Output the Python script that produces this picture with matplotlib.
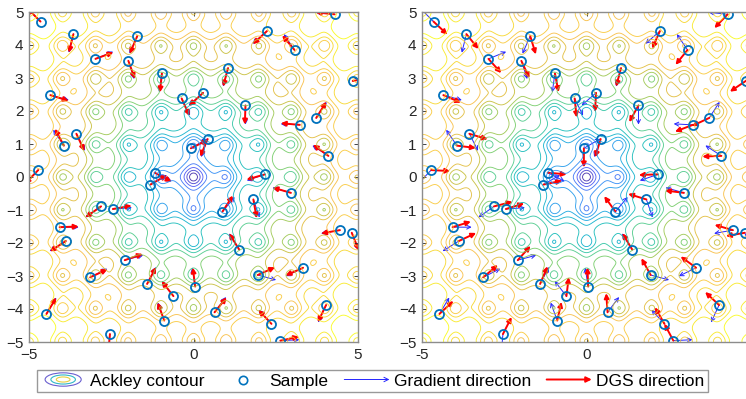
import numpy as np
import matplotlib
matplotlib.use("Agg")
import matplotlib.pyplot as plt
from matplotlib.colors import LinearSegmentedColormap
from matplotlib.patches import FancyArrowPatch, Ellipse
from matplotlib.legend_handler import HandlerBase
from matplotlib.lines import Line2D

# sample points (same in both panels)
sample_x = [-4.65, -3.65, -2.98, -1.71, -1.98, -0.96, -0.36, -4.35, -3.94, -3.56,
            -4.72, -0.08, 0.43, -1.18, -1.31, 4.29, 2.23, 3.07, 1.05, 4.84,
            0.29, 1.58, 3.23, 3.73, 4.10, 2.17, -2.81, -2.45, -4.07, -3.88,
            -2.09, -3.14, -1.41, -0.61, 0.05, -4.47, -0.89, -2.54, 2.96, 0.88,
            1.82, 1.39, 4.45, 4.81, 1.95, 3.33, 0.64, 4.03, 2.37, 2.64]
sample_y = [4.71, 4.33, 3.58, 4.27, 3.52, 3.14, 2.38, 2.48, 0.95, 1.31,
            0.21, 0.87, 1.15, 0.13, -0.23, 4.93, 4.42, 3.85, 3.30, 2.91,
            2.55, 2.17, 1.58, 1.79, 0.64, 0.08, -0.89, -0.97, -1.52, -1.94,
            -2.52, -3.04, -3.24, -3.61, -3.32, -4.15, -4.35, -4.76, -0.48, -1.05,
            -0.68, -2.20, -1.61, -1.69, -2.97, -2.75, -4.10, -3.88, -4.45, -4.96]

# arrow directions in degrees
grad_deg = [135, -104, 22, -114, -72, -98, -64, -15, 124, -63,
            -134, 30, -110, -27, 30, 174, -139, 124, -105, 10,
            -139, -90, 177, 57, 147, -161, -145, 4, 0, -148,
            15, 27, 62, 128, 99, 59, 110, -95, 164, 50,
            -71, 122, -170, -68, -15, -154, 53, -115, 133, 3]
dgs_left_deg = [135, -104, 20, -113, -70, -96, -66, -17, 118, -65,
                -134, 26, -113, -28, 30, 174, -137, 130, -105, 10,
                -137, -92, 175, 58, 144, -164, -145, 10, 2, -147,
                19, 25, 62, 128, 97, 59, 110, -95, 164, 57,
                -80, 122, -170, -68, 24, -156, 51, -116, 133, 12]
dgs_right_deg = [-43, -51, -48, -73, -65, -79, -84, -23, -7, -17,
                 -3, -90, -107, -5, 12, -134, -114, -129, -105, -146,
                 -93, -119, -159, -155, -178, -178, 14, 17, 17, 25,
                 48, 40, 67, 83, 92, 43, 77, 63, 173, 126,
                 163, 121, 164, -170, 119, 144, 94, 137, 120, 118]

x_ticks = [-5, 0, 5]
y_ticks = [-5, -4, -3, -2, -1, 0, 1, 2, 3, 4, 5]
legend_labels = ["Ackley contour", "Sample", "Gradient direction", "DGS direction"]

ARROW_LEN = 0.58
SAMPLE_COLOR = (0.0, 0.447, 0.741)
BLUE = (0.15, 0.15, 1.0)

parula = LinearSegmentedColormap.from_list("parula", [
    (0.2422, 0.1504, 0.6603), (0.2810, 0.3228, 0.9579), (0.1786, 0.5289, 0.9682),
    (0.0689, 0.6279, 0.8890), (0.0267, 0.7132, 0.7464), (0.2161, 0.7843, 0.5923),
    (0.5044, 0.7993, 0.3480), (0.8185, 0.7327, 0.1882), (0.9856, 0.7372, 0.2537),
    (0.9687, 0.8378, 0.1452), (0.9769, 0.9839, 0.0805)])

g = np.linspace(-5, 5, 501)
X, Y = np.meshgrid(g, g)
Z = (-20 * np.exp(-0.2 * np.sqrt(0.5 * (X**2 + Y**2)))
     - np.exp(0.5 * (np.cos(2 * np.pi * X) + np.cos(2 * np.pi * Y))) + np.e + 20)
levels = np.linspace(Z.min(), Z.max(), 22)[1:-1]

plt.rcParams['font.family'] = ['Liberation Sans', 'DejaVu Sans']


def arrow(ax, x0, y0, deg, color, lw, style, ms):
    a = np.deg2rad(deg)
    x1 = x0 + ARROW_LEN * np.cos(a)
    y1 = y0 + ARROW_LEN * np.sin(a)
    p = FancyArrowPatch((x0, y0), (x1, y1), arrowstyle=style, color=color,
                        lw=lw, mutation_scale=ms, shrinkA=0, shrinkB=0)
    ax.add_patch(p)


fig = plt.figure(figsize=(7.46, 3.99), dpi=100)
ax_l = fig.add_axes([29 / 746, 57 / 399, 329 / 746, 330 / 399])
ax_r = fig.add_axes([422 / 746, 57 / 399, 329 / 746, 330 / 399])

for ax, dgs in [(ax_l, dgs_left_deg), (ax_r, dgs_right_deg)]:
    ax.contour(X, Y, Z, levels=levels, cmap=parula, linewidths=0.65, alpha=0.9)
    ax.plot(sample_x, sample_y, 'o', mfc='none', mec=SAMPLE_COLOR, ms=6.5, mew=1.3)
    for x0, y0, a in zip(sample_x, sample_y, grad_deg):
        arrow(ax, x0, y0, a, BLUE, 0.7, '->', 7)
    for x0, y0, a in zip(sample_x, sample_y, dgs):
        arrow(ax, x0, y0, a, 'red', 1.4, '-|>', 7)
    ax.set_xlim(-5, 5)
    ax.set_ylim(-5, 5)
    ax.set_xticks(x_ticks)
    ax.set_yticks(y_ticks)
    ax.tick_params(direction='in', top=True, right=True, length=3, width=0.6,
                   labelsize=11, colors='0.15', pad=4)
    for s in ax.spines.values():
        s.set_color('0.55')
        s.set_linewidth(1.0)

# right panel runs past the picture edge: its last x label is not shown
ax_r.set_xticklabels([str(t) for t in x_ticks[:-1]] + [''])


class ContourHandler(HandlerBase):
    def create_artists(self, legend, orig_handle, xdescent, ydescent, width,
                       height, fontsize, trans):
        cx = 0.5 * width - xdescent
        cy = 0.5 * height - ydescent
        arts = []
        for s, c in zip([1.0, 0.68, 0.38], ['#6a5fd0', '#30b8c8', '#e6d040']):
            arts.append(Ellipse((cx, cy), width * 0.8 * s, height * 1.1 * s,
                                fill=False, ec=c, lw=0.8, transform=trans))
        return arts


class ArrowHandler(HandlerBase):
    def __init__(self, style):
        super().__init__()
        self.style = style

    def create_artists(self, legend, orig_handle, xdescent, ydescent, width,
                       height, fontsize, trans):
        y = 0.5 * height - ydescent
        p = FancyArrowPatch((-xdescent, y), (-xdescent + width, y), arrowstyle=self.style,
                            color=orig_handle.get_color(), lw=orig_handle.get_linewidth(),
                            mutation_scale=8, shrinkA=0, shrinkB=0, transform=trans)
        return [p]


h_cont = Line2D([], [])
h_samp = Line2D([], [], marker='o', ls='none', mfc='none', mec=SAMPLE_COLOR, ms=6, mew=1.2)
h_grad = Line2D([], [], color=BLUE, lw=0.7)
h_dgs = Line2D([], [], color='red', lw=1.4)
leg = fig.legend([h_cont, h_samp, h_grad, h_dgs], legend_labels,
                 handler_map={h_cont: ContourHandler(), h_grad: ArrowHandler('->'),
                              h_dgs: ArrowHandler('-|>')},
                 loc='center', bbox_to_anchor=(0.4993, 0.0451), ncol=4,
                 fancybox=False, edgecolor='0.5', fontsize=12.5, handlelength=2.6,
                 handletextpad=0.25, columnspacing=0.9, borderpad=0.2,
                 borderaxespad=0)
leg.get_frame().set_linewidth(1.0)

fig.savefig("out.png", dpi=100)
